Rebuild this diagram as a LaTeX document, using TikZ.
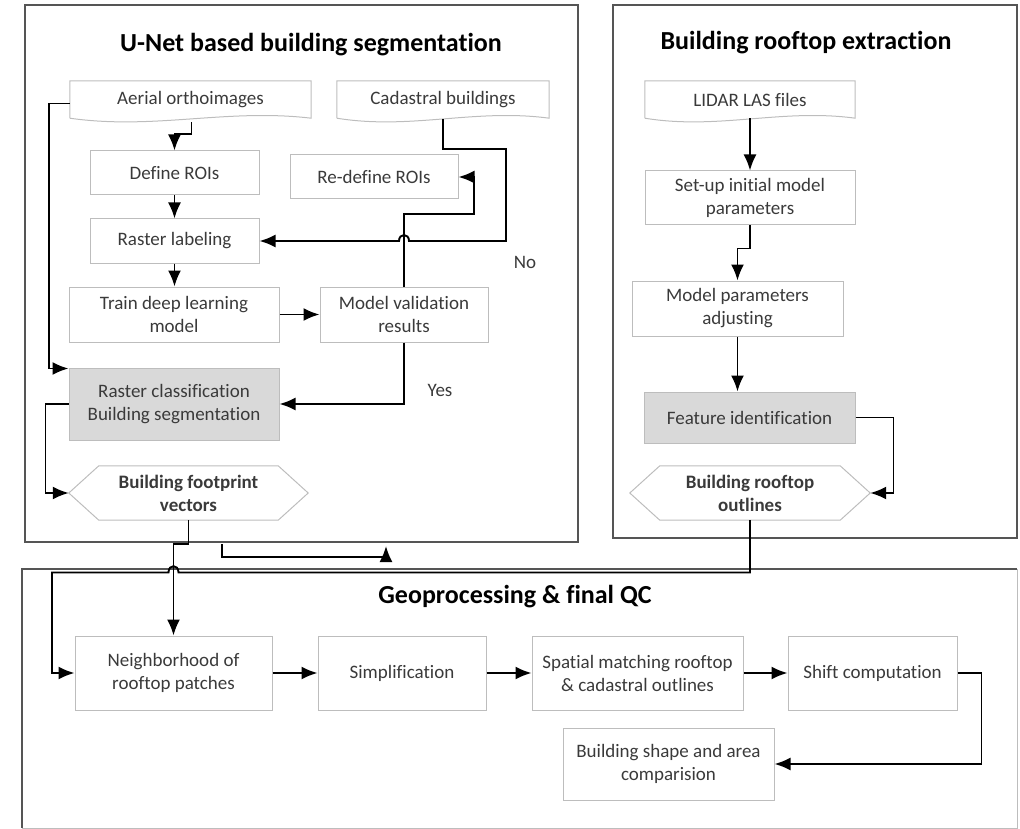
\documentclass[tikz,border=0pt]{standalone}
\usepackage{fontspec}
\setmainfont{Carlito}[Ligatures=NoCommon]
\usetikzlibrary{arrows.meta,calc}
\definecolor{txt}{HTML}{3A3A3A}
\definecolor{boxline}{HTML}{BDBDBD}
\definecolor{frame}{HTML}{555555}
\definecolor{shade}{HTML}{D9D9D9}
\newcommand{\docoutline}[1]{%
  \draw[docline] (#1.south west) -- (#1.north west) -- (#1.north east) -- (#1.south east)
    .. controls ($(#1.south east)!0.35!(#1.south west)+(0,-10)$) and ($(#1.south west)!0.35!(#1.south east)+(0,12)$) .. (#1.south west);}
\newcommand{\hexoutline}[1]{%
  \draw[docline] (#1.west) -- ($(#1.north west)+(30,0)$) -- ($(#1.north east)+(-30,0)$) -- (#1.east)
    -- ($(#1.south east)+(-30,0)$) -- ($(#1.south west)+(30,0)$) -- cycle;}
\begin{document}
\begin{tikzpicture}[x=1pt,y=-1pt,
  font=\fontsize{19}{23}\selectfont,
  every node/.style={text=txt, align=center, inner sep=0pt},
  proc/.style={draw=boxline, line width=1pt, rectangle},
  procgray/.style={proc, fill=shade},
  docnode/.style={rectangle, draw=none},
  hexnode/.style={rectangle, draw=none, font=\fontsize{19}{23}\selectfont\bfseries},
  docline/.style={draw=boxline, line width=1pt},
  frameline/.style={draw=frame, line width=2pt},
  title/.style={text=black, font=\fontsize{26}{31}\selectfont\bfseries},
  arr/.style={draw=black, line width=1.9pt, -{Latex[length=16pt,width=13pt]}},
  lbl/.style={text=txt}
]
\useasboundingbox (0,0) rectangle (1020,829);

% outer frames
\node[draw=frame, line width=2pt, minimum width=553pt, minimum height=537pt] (ubox) at (301.5,273.5) {};
\node[draw=frame, line width=2pt, minimum width=404pt, minimum height=533pt] (rbox) at (815,271.5) {};
\draw[draw=boxline, line width=1pt] (1017,569) -- (1017,828) -- (22,828);
\draw[frameline] (22,828) -- (22,569) -- (1017,569);

% titles
\node[title] (t1) at (311,45) {U-Net based building segmentation};
\node[title] (t2) at (806,43) {Building rooftop extraction};
\node[title] (t3) at (515,597) {Geoprocessing \& final QC};

% left section nodes
\node[docnode, minimum width=241pt, minimum height=37pt] (aer) at (190.5,99.5) {Aerial orthoimages};
\docoutline{aer}
\node[docnode, minimum width=212pt, minimum height=37pt] (cad) at (443,99.5) {Cadastral buildings};
\docoutline{cad}
\node[proc, minimum width=169pt, minimum height=44pt] (def) at (174.5,173) {Define ROIs};
\node[proc, minimum width=168pt, minimum height=44pt] (rdef) at (374,177) {Re-define ROIs};
\node[proc, minimum width=169pt, minimum height=44pt] (rl) at (174.5,241) {Raster labeling};
\node[proc, minimum width=210pt, minimum height=55pt] (train) at (174,314.5) {Train deep learning\\model};
\node[proc, minimum width=168pt, minimum height=55pt] (mv) at (404,314.5) {Model validation\\results};
\node[procgray, minimum width=210pt, minimum height=72pt] (rc) at (174,404) {Raster classification\\Building segmentation};
\node[hexnode, minimum width=239pt, minimum height=54pt] (fp) at (188.5,493) {Building footprint\\vectors};
\hexoutline{fp}
\node[lbl] (no) at (525,262) {No};
\node[lbl] (yes) at (440,390) {Yes};

% right section nodes
\node[docnode, minimum width=210pt, minimum height=37pt] (lidar) at (750,99.5) {LIDAR LAS files};
\docoutline{lidar}
\node[proc, minimum width=210pt, minimum height=54pt] (setup) at (750,198) {Set-up initial model\\parameters};
\node[proc, minimum width=211pt, minimum height=55pt] (mpa) at (737.5,308.5) {Model parameters\\adjusting};
\node[procgray, minimum width=211pt, minimum height=51pt] (fi) at (749.5,417.5) {Feature identification};
\node[hexnode, minimum width=240pt, minimum height=54pt] (ro) at (750,493) {Building rooftop\\outlines};
\hexoutline{ro}

% bottom section nodes
\node[proc, minimum width=197pt, minimum height=74pt] (nb) at (173.5,673) {Neighborhood of\\rooftop patches};
\node[proc, minimum width=168pt, minimum height=74pt] (simp) at (402,673) {Simplification};
\node[proc, minimum width=211pt, minimum height=74pt] (spm) at (637.5,673) {Spatial matching rooftop\\\& cadastral outlines};
\node[proc, minimum width=169pt, minimum height=74pt] (shift) at (872.5,673) {Shift computation};
\node[proc, minimum width=211pt, minimum height=72pt] (bsa) at (668.5,764) {Building shape and area\\comparision};

% connectors, left section
\draw[arr] ($(aer.south)+(1,4)$) -- ++(0,12) -| (def.north);
\draw[arr] (def.south) -- (rl.north);
\draw[arr] (rl.south) -- (rl.south |- train.north);
\draw[arr] (train.east) -- (mv.west);
\draw[arr] (mv.north) |- (474,214) |- (rdef.east);
\draw[arr] ($(cad.south)+(0,1)$) |- (506,149) |- (409,241)
  .. controls (409,233) and (399,233) .. (399,241) -- (rl.east);
\draw[arr] (mv.south) |- (rc.east);
\draw[arr] ($(aer.west)+(0,4)$) -- (49,103.5) |- ($(rc.north west)+(0,1)$);
\draw[arr] (rc.west) -- ++(-23,0) |- (fp.west);
\draw[arr] (fp.south) -- ($(fp.south |- ubox.south)+(0,1)$) -| (nb.north);
\draw[arr] ($(ubox.south west)+(198,1)$) -- ++(0,13) -| ($(ubox.south west)+(362,3)$);

% connectors, right section
\draw[arr] (lidar.south) -- (setup.north);
\draw[arr] (setup.south) -- ++(0,23) -| (mpa.north);
\draw[arr] (mpa.south) -- (mpa.south |- fi.north);
\draw[arr] (fi.east) -- ++(38,0) |- (ro.east);
\draw[arr] (ro.south) |- (178.5,572.5) .. controls (178.5,564) and (168.5,564) .. (168.5,572.5) -- (52,572.5) |- (nb.west);

% connectors, bottom section
\draw[arr] (nb.east) -- (simp.west);
\draw[arr] (simp.east) -- (spm.west);
\draw[arr] (spm.east) -- (shift.west);
\draw[arr] (shift.east) -- ++(24,0) |- (bsa.east);
\end{tikzpicture}
\end{document}
